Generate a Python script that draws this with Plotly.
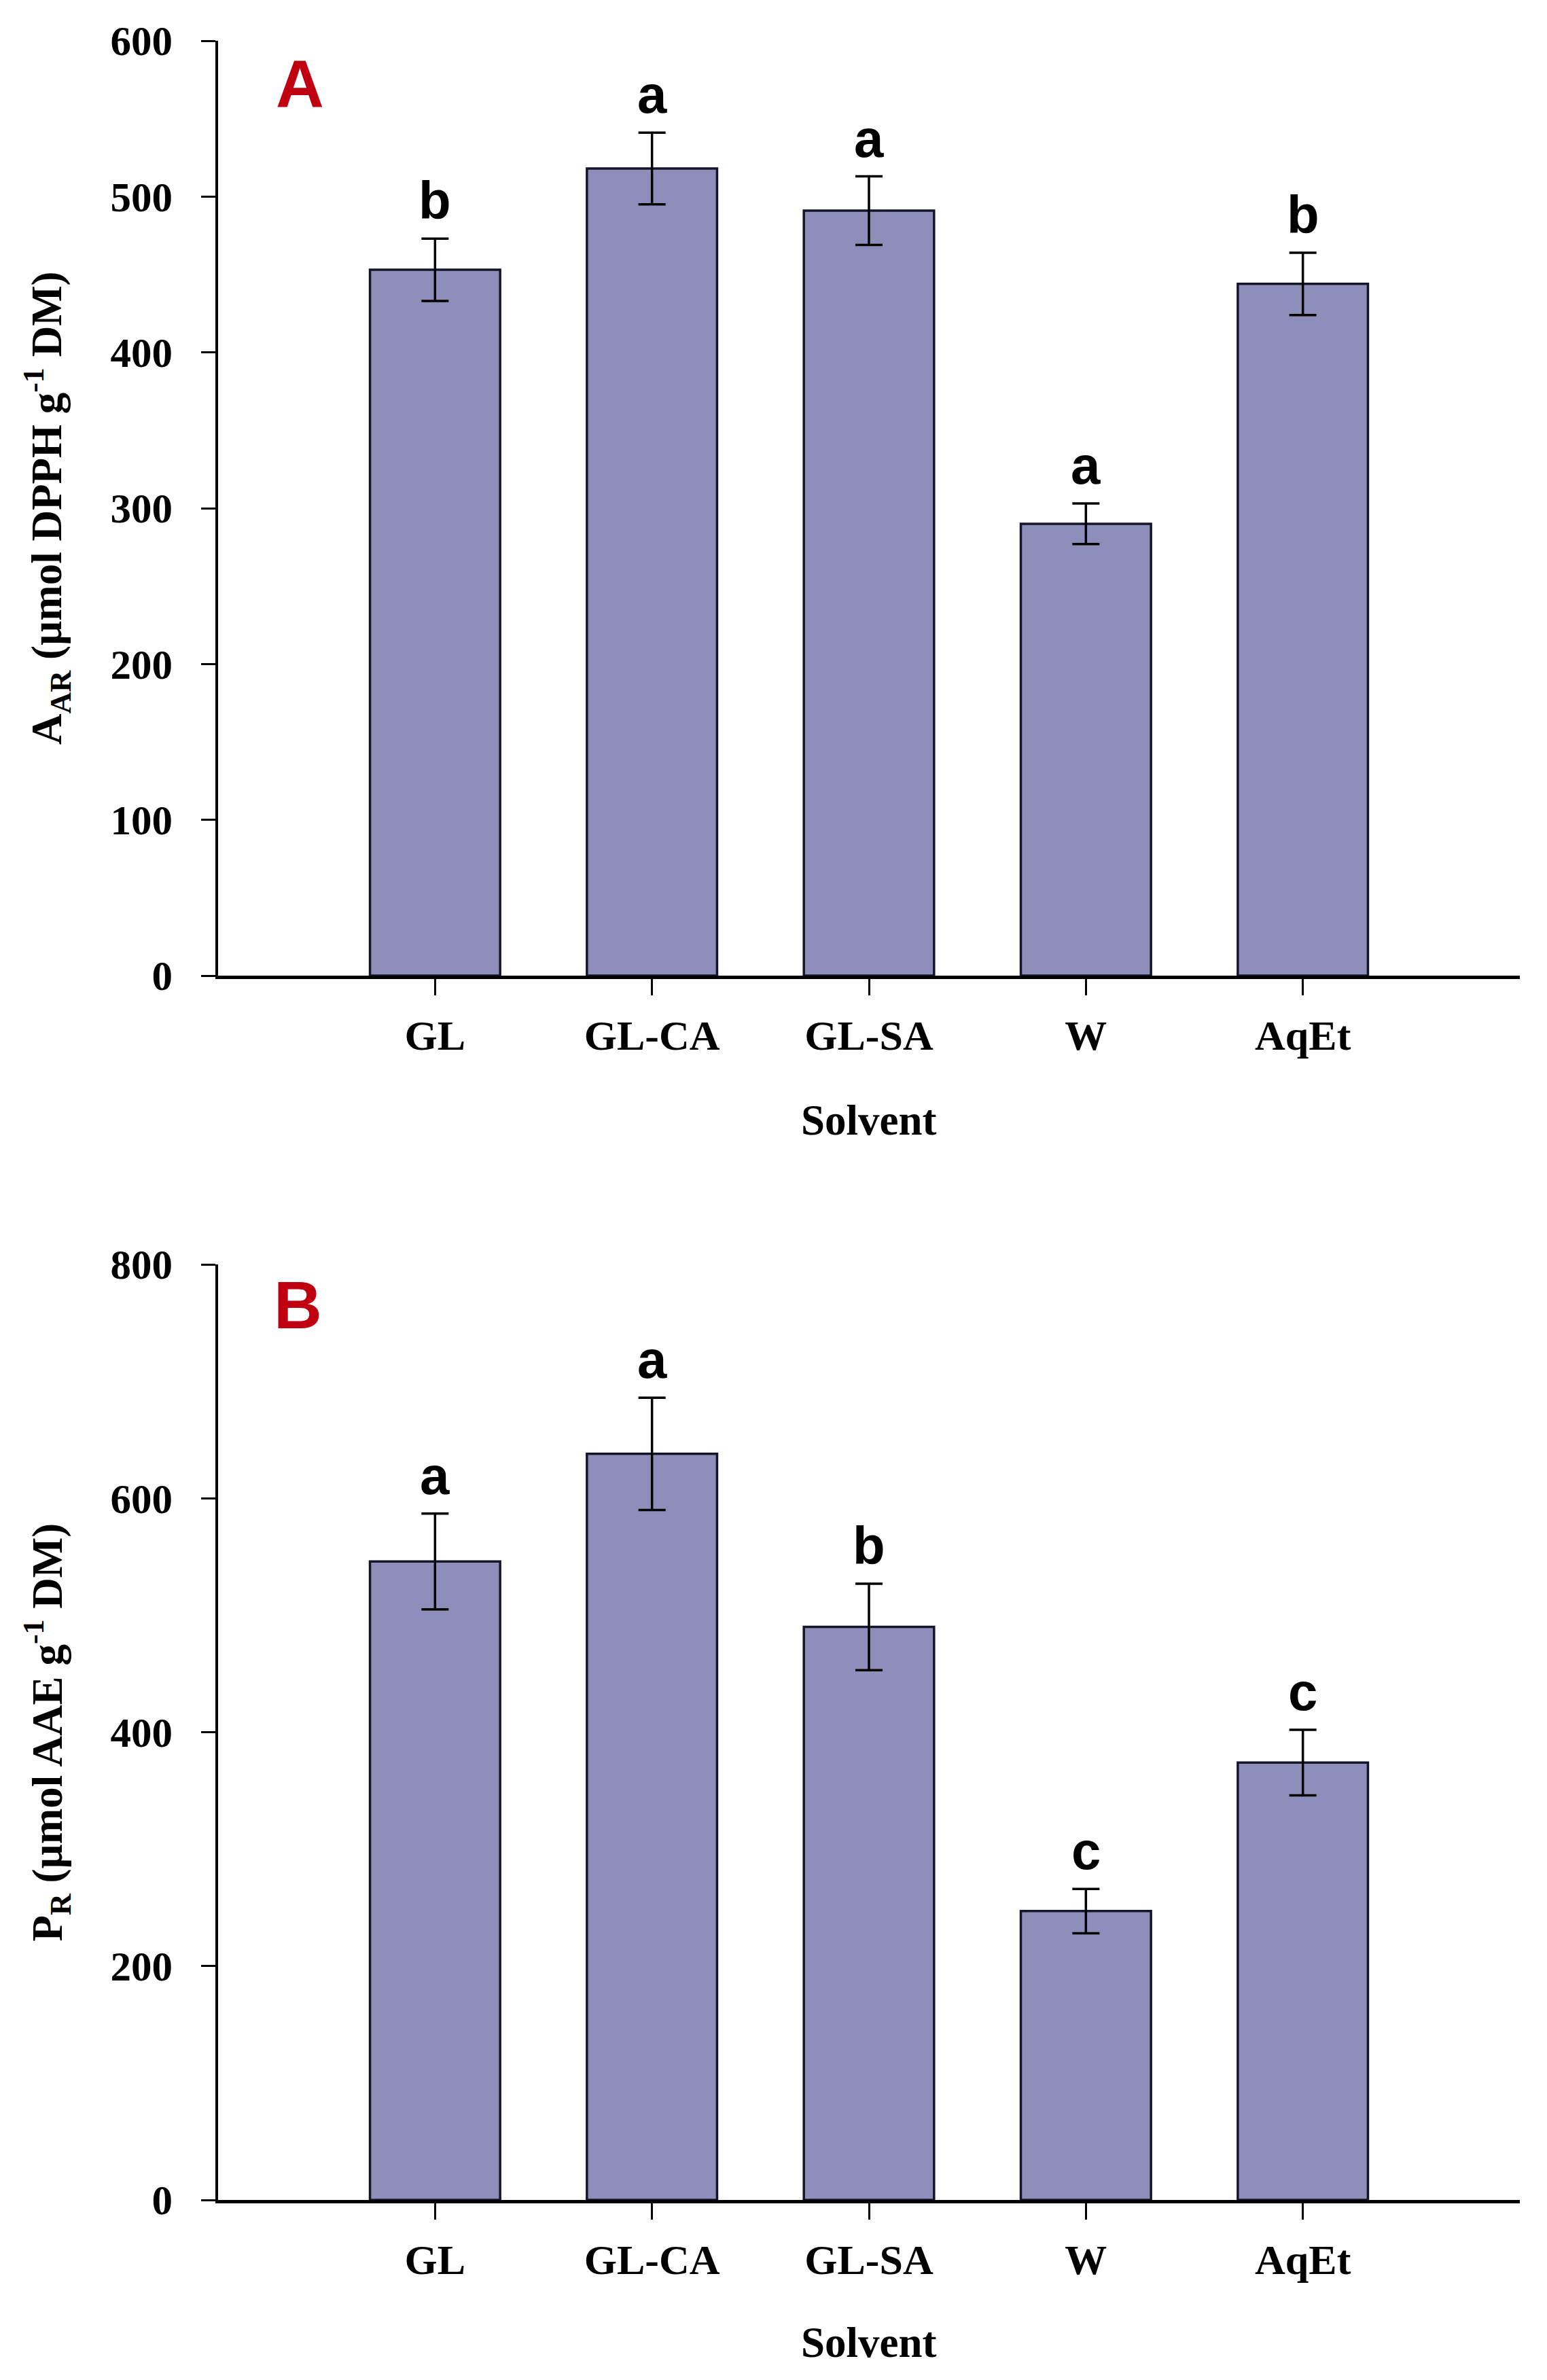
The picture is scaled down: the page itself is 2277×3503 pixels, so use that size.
import plotly.graph_objects as go

# ---- data ----
categories = ["GL", "GL-CA", "GL-SA", "W", "AqEt"]

aar_values = [453, 518, 491, 290, 444]
aar_errors = [20, 23, 22, 13, 20]
aar_letters = ["b", "a", "a", "a", "b"]

pr_values = [546, 638, 490, 247, 374]
pr_errors = [41, 48, 37, 19, 28]
pr_letters = ["a", "a", "b", "c", "c"]

yticks_a = [0, 100, 200, 300, 400, 500, 600]
yticks_b = [0, 200, 400, 600, 800]

# ---- style ----
W, H = 2277, 3503
BAR_FILL = "#8E8EBB"
BAR_LINE = "#15152A"
SERIF = "Liberation Serif, Times New Roman, serif"
SANS = "Liberation Sans, Arial, sans-serif"
RED = "#C00010"

x_dom = [313 / W, 2229 / W]
ya_dom = [1 - 1428 / H, 1 - 52 / H]
yb_dom = [1 - 3230 / H, 1 - 1853 / H]

fig = go.Figure()

def add_bars(vals, errs, xa, ya):
    fig.add_trace(go.Bar(
        x=categories, y=vals, xaxis=xa, yaxis=ya, width=0.6,
        marker=dict(color=BAR_FILL, line=dict(color=BAR_LINE, width=3.5)),
        error_y=dict(type="data", array=errs, visible=True,
                     color="black", thickness=3.5, width=20),
        showlegend=False, hoverinfo="skip",
    ))

add_bars(aar_values, aar_errors, "x", "y")
add_bars(pr_values, pr_errors, "x2", "y2")

xaxis_common = dict(
    type="category", range=[-1, 5], showline=True, linecolor="black", linewidth=5,
    ticks="outside", ticklen=24, tickwidth=3, tickcolor="black",
    tickfont=dict(family=SERIF, size=62, color="black", weight="bold"),
    ticklabelstandoff=6, showgrid=False, zeroline=False, fixedrange=True,
    automargin=False,
)
yaxis_common = dict(
    showline=True, linecolor="black", linewidth=3.5,
    ticks="outside", ticklen=21, tickwidth=3, tickcolor="black",
    tickfont=dict(family=SERIF, size=61, color="black", weight="bold"),
    ticklabelstandoff=30, showgrid=False, zeroline=False, fixedrange=True,
    automargin=False,
)

fig.update_layout(
    width=W, height=H,
    margin=dict(l=0, r=0, t=0, b=0, autoexpand=False),
    paper_bgcolor="white", plot_bgcolor="white",
    bargap=0.4,
    xaxis=dict(domain=x_dom, anchor="y", **xaxis_common),
    yaxis=dict(domain=ya_dom, anchor="x", range=[0, 600], tickvals=yticks_a, **yaxis_common),
    xaxis2=dict(domain=x_dom, anchor="y2", **xaxis_common),
    yaxis2=dict(domain=yb_dom, anchor="x2", range=[0, 800], tickvals=yticks_b, **yaxis_common),
)

annotations = []
letter_font = dict(family=SANS, size=78, color="black", weight="bold")
for cat, v, e, l in zip(categories, aar_values, aar_errors, aar_letters):
    annotations.append(dict(x=cat, y=v + e, xref="x", yref="y", text=l, showarrow=False,
                            yanchor="bottom", yshift=10, font=letter_font))
for cat, v, e, l in zip(categories, pr_values, pr_errors, pr_letters):
    annotations.append(dict(x=cat, y=v + e, xref="x2", yref="y2", text=l, showarrow=False,
                            yanchor="bottom", yshift=10, font=letter_font))

panel_font = dict(family=SANS, size=98, color=RED, weight="bold")
annotations.append(dict(x=433 / W, y=1 - 115 / H, xref="paper", yref="paper", text="A",
                        showarrow=False, xanchor="center", yanchor="middle", font=panel_font))
annotations.append(dict(x=430 / W, y=1 - 1913 / H, xref="paper", yref="paper", text="B",
                        showarrow=False, xanchor="center", yanchor="middle", font=panel_font))

title_font = dict(family=SERIF, size=63, color="black", weight="bold")
annotations.append(dict(x=62 / W, y=(ya_dom[0] + ya_dom[1]) / 2, xref="paper", yref="paper",
                        text="A<sub>AR</sub> (µmol DPPH g<sup>-1</sup> DM)", textangle=-90,
                        showarrow=False, xanchor="center", yanchor="middle", font=title_font))
annotations.append(dict(x=62 / W, y=(yb_dom[0] + yb_dom[1]) / 2, xref="paper", yref="paper",
                        text="P<sub>R</sub> (µmol AAE g<sup>-1</sup> DM)", textangle=-90,
                        showarrow=False, xanchor="center", yanchor="middle", font=title_font))

xmid = (x_dom[0] + x_dom[1]) / 2
annotations.append(dict(x=xmid, y=1 - 1641 / H, xref="paper", yref="paper", text="Solvent",
                        showarrow=False, xanchor="center", yanchor="middle", font=title_font))
annotations.append(dict(x=xmid, y=1 - 3440 / H, xref="paper", yref="paper", text="Solvent",
                        showarrow=False, xanchor="center", yanchor="middle", font=title_font))

fig.update_layout(annotations=annotations)

fig.write_html("out.html")
